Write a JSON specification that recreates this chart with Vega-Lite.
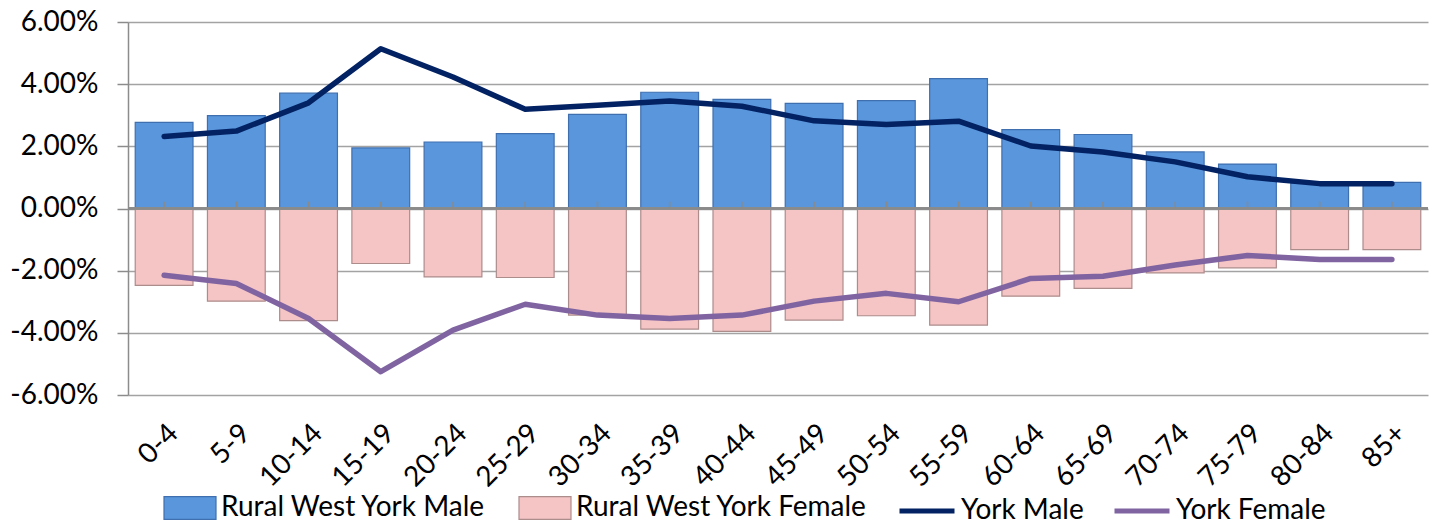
{
  "$schema": "https://vega.github.io/schema/vega-lite/v6.json",
  "autosize": {"type": "none"},
  "padding": {"left": 128, "top": 22, "right": 11, "bottom": 129},
  "width": 1300,
  "height": 373,
  "background": "white",
  "config": {
    "font": "Lato",
    "view": {"stroke": null},
    "axis": {"labelFont": "Lato", "labelColor": "#000000"},
    "legend": {"labelFont": "Lato", "labelColor": "#000000"}
  },
  "data": {
    "values": [
      {"age": "0-4", "series": "Rural West York Male", "value": 0.0277},
      {"age": "5-9", "series": "Rural West York Male", "value": 0.0299},
      {"age": "10-14", "series": "Rural West York Male", "value": 0.0371},
      {"age": "15-19", "series": "Rural West York Male", "value": 0.0195},
      {"age": "20-24", "series": "Rural West York Male", "value": 0.0214},
      {"age": "25-29", "series": "Rural West York Male", "value": 0.0241},
      {"age": "30-34", "series": "Rural West York Male", "value": 0.0303},
      {"age": "35-39", "series": "Rural West York Male", "value": 0.0374},
      {"age": "40-44", "series": "Rural West York Male", "value": 0.0351},
      {"age": "45-49", "series": "Rural West York Male", "value": 0.0338},
      {"age": "50-54", "series": "Rural West York Male", "value": 0.0347},
      {"age": "55-59", "series": "Rural West York Male", "value": 0.0418},
      {"age": "60-64", "series": "Rural West York Male", "value": 0.0254},
      {"age": "65-69", "series": "Rural West York Male", "value": 0.0238},
      {"age": "70-74", "series": "Rural West York Male", "value": 0.0182},
      {"age": "75-79", "series": "Rural West York Male", "value": 0.0143},
      {"age": "80-84", "series": "Rural West York Male", "value": 0.0082},
      {"age": "85+", "series": "Rural West York Male", "value": 0.0084},
      {"age": "0-4", "series": "Rural West York Female", "value": -0.0247},
      {"age": "5-9", "series": "Rural West York Female", "value": -0.0298},
      {"age": "10-14", "series": "Rural West York Female", "value": -0.0361},
      {"age": "15-19", "series": "Rural West York Female", "value": -0.0177},
      {"age": "20-24", "series": "Rural West York Female", "value": -0.0220},
      {"age": "25-29", "series": "Rural West York Female", "value": -0.0222},
      {"age": "30-34", "series": "Rural West York Female", "value": -0.0343},
      {"age": "35-39", "series": "Rural West York Female", "value": -0.0388},
      {"age": "40-44", "series": "Rural West York Female", "value": -0.0395},
      {"age": "45-49", "series": "Rural West York Female", "value": -0.0359},
      {"age": "50-54", "series": "Rural West York Female", "value": -0.0345},
      {"age": "55-59", "series": "Rural West York Female", "value": -0.0375},
      {"age": "60-64", "series": "Rural West York Female", "value": -0.0282},
      {"age": "65-69", "series": "Rural West York Female", "value": -0.0257},
      {"age": "70-74", "series": "Rural West York Female", "value": -0.0207},
      {"age": "75-79", "series": "Rural West York Female", "value": -0.0191},
      {"age": "80-84", "series": "Rural West York Female", "value": -0.0132},
      {"age": "85+", "series": "Rural West York Female", "value": -0.0132},
      {"age": "0-4", "series": "York Male", "value": 0.0232},
      {"age": "5-9", "series": "York Male", "value": 0.0249},
      {"age": "10-14", "series": "York Male", "value": 0.0340},
      {"age": "15-19", "series": "York Male", "value": 0.0514},
      {"age": "20-24", "series": "York Male", "value": 0.0423},
      {"age": "25-29", "series": "York Male", "value": 0.0319},
      {"age": "30-34", "series": "York Male", "value": 0.0332},
      {"age": "35-39", "series": "York Male", "value": 0.0346},
      {"age": "40-44", "series": "York Male", "value": 0.0329},
      {"age": "45-49", "series": "York Male", "value": 0.0282},
      {"age": "50-54", "series": "York Male", "value": 0.0270},
      {"age": "55-59", "series": "York Male", "value": 0.0281},
      {"age": "60-64", "series": "York Male", "value": 0.0201},
      {"age": "65-69", "series": "York Male", "value": 0.0182},
      {"age": "70-74", "series": "York Male", "value": 0.0150},
      {"age": "75-79", "series": "York Male", "value": 0.0102},
      {"age": "80-84", "series": "York Male", "value": 0.0080},
      {"age": "85+", "series": "York Male", "value": 0.0080},
      {"age": "0-4", "series": "York Female", "value": -0.0215},
      {"age": "5-9", "series": "York Female", "value": -0.0241},
      {"age": "10-14", "series": "York Female", "value": -0.0354},
      {"age": "15-19", "series": "York Female", "value": -0.0525},
      {"age": "20-24", "series": "York Female", "value": -0.0391},
      {"age": "25-29", "series": "York Female", "value": -0.0308},
      {"age": "30-34", "series": "York Female", "value": -0.0343},
      {"age": "35-39", "series": "York Female", "value": -0.0354},
      {"age": "40-44", "series": "York Female", "value": -0.0343},
      {"age": "45-49", "series": "York Female", "value": -0.0298},
      {"age": "50-54", "series": "York Female", "value": -0.0273},
      {"age": "55-59", "series": "York Female", "value": -0.0300},
      {"age": "60-64", "series": "York Female", "value": -0.0225},
      {"age": "65-69", "series": "York Female", "value": -0.0218},
      {"age": "70-74", "series": "York Female", "value": -0.0182},
      {"age": "75-79", "series": "York Female", "value": -0.0151},
      {"age": "80-84", "series": "York Female", "value": -0.0164},
      {"age": "85+", "series": "York Female", "value": -0.0164}
    ]
  },
  "encoding": {
    "x": {
      "field": "age",
      "type": "nominal",
      "sort": ["0-4","5-9","10-14","15-19","20-24","25-29","30-34","35-39","40-44","45-49","50-54","55-59","60-64","65-69","70-74","75-79","80-84","85+"],
      "scale": {"paddingInner": 0.2, "paddingOuter": 0.1},
      "axis": {
        "title": null,
        "domain": false,
        "ticks": false,
        "grid": false,
        "labelAngle": -45,
        "labelAlign": "right",
        "labelBaseline": "top",
        "labelPadding": 24,
        "labelFontSize": 28,
        "labelOverlap": false
      }
    }
  },
  "layer": [
    {
      "transform": [{"filter": "indexof(datum.series, 'Rural') === 0"}],
      "mark": {"type": "bar", "strokeWidth": 1.2},
      "encoding": {
        "y": {
          "field": "value",
          "type": "quantitative",
          "stack": null,
          "scale": {"domain": [-0.06, 0.06], "nice": false, "zero": false},
          "axis": {
            "title": null,
            "values": [-0.06, -0.04, -0.02, 0, 0.02, 0.04, 0.06],
            "labelExpr": "replace(format(datum.value, '.2%'), '\u2212', '-')",
            "labelFontSize": 28,
            "labelPadding": 19,
            "domainColor": "#8c8c8c",
            "domainWidth": 1.5,
            "tickColor": "#8c8c8c",
            "tickWidth": 1.5,
            "tickSize": 11,
            "gridColor": "#a3a3a3",
            "gridWidth": 1.5
          }
        },
        "fill": {
          "field": "series",
          "type": "nominal",
          "scale": {"domain": ["Rural West York Male", "Rural West York Female"], "range": ["#5a96dc", "#f5c4c4"]},
          "legend": {
            "title": null,
            "orient": "none",
            "direction": "horizontal",
            "legendX": 35,
            "legendY": 459,
            "symbolType": "M-1,-0.44H1V0.44H-1Z",
            "symbolSize": 2704,
            "symbolStrokeWidth": 1.2,
            "labelFontSize": 28,
            "labelOffset": 4,
            "labelLimit": 400,
            "columnPadding": 30
          }
        },
        "stroke": {
          "field": "series",
          "type": "nominal",
          "scale": {"domain": ["Rural West York Male", "Rural West York Female"], "range": ["#3f6faf", "#ad8c8c"]},
          "legend": {
            "title": null,
            "orient": "none",
            "direction": "horizontal",
            "legendX": 35,
            "legendY": 459,
            "symbolType": "M-1,-0.44H1V0.44H-1Z",
            "symbolSize": 2704,
            "symbolStrokeWidth": 1.2,
            "labelFontSize": 28,
            "labelOffset": 4,
            "labelLimit": 400,
            "columnPadding": 30
          }
        }
      }
    },
    {
      "mark": {"type": "rule", "color": "#8a8a8a", "strokeWidth": 1.5},
      "encoding": {"x": null, "y": {"datum": 0, "type": "quantitative"}}
    },
    {
      "transform": [{"filter": "datum.series === 'York Male'"}],
      "mark": {"type": "rule", "color": "#8a8a8a", "strokeWidth": 1.5},
      "encoding": {
        "x": {"field": "age", "type": "nominal", "sort": ["0-4","5-9","10-14","15-19","20-24","25-29","30-34","35-39","40-44","45-49","50-54","55-59","60-64","65-69","70-74","75-79","80-84","85+"]},
        "y": {"datum": 0, "type": "quantitative"},
        "y2": {"datum": 0.0022}
      }
    },
    {
      "transform": [{"filter": "indexof(datum.series, 'York') === 0"}],
      "mark": {"type": "line", "strokeWidth": 5.5, "strokeCap": "round", "strokeJoin": "round"},
      "encoding": {
        "y": {"field": "value", "type": "quantitative"},
        "color": {
          "field": "series",
          "type": "nominal",
          "scale": {"domain": ["York Male", "York Female"], "range": ["#022264", "#8064a2"]},
          "legend": {
            "title": null,
            "orient": "none",
            "direction": "horizontal",
            "legendX": 769,
            "legendY": 459,
            "symbolType": "stroke",
            "symbolSize": 3025,
            "symbolStrokeWidth": 5,
            "labelFontSize": 28,
            "labelOffset": 4,
            "labelLimit": 400,
            "columnPadding": 20
          }
        }
      }
    }
  ]
}
